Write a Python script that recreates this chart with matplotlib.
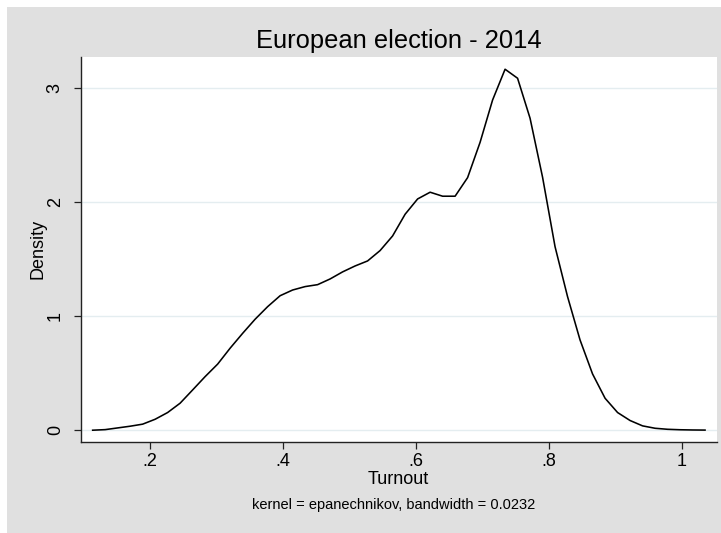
import matplotlib
matplotlib.use("Agg")
import matplotlib.pyplot as plt
from matplotlib.patches import Rectangle

# Kernel density estimate of turnout, 50 evaluation points
turnout = [0.1133, 0.1321, 0.1509, 0.1697, 0.1885, 0.2073, 0.2261, 0.2449, 0.2637, 0.2825,
           0.3014, 0.3202, 0.3390, 0.3578, 0.3766, 0.3954, 0.4142, 0.4330, 0.4518, 0.4706,
           0.4894, 0.5082, 0.5270, 0.5458, 0.5646, 0.5835, 0.6023, 0.6211, 0.6399, 0.6587,
           0.6775, 0.6963, 0.7151, 0.7339, 0.7527, 0.7715, 0.7903, 0.8091, 0.8279, 0.8467,
           0.8655, 0.8844, 0.9032, 0.9220, 0.9408, 0.9596, 0.9784, 0.9972, 1.0160, 1.0348]
density = [0.000, 0.005, 0.020, 0.035, 0.053, 0.096, 0.155, 0.237, 0.353, 0.470,
           0.580, 0.720, 0.850, 0.974, 1.084, 1.180, 1.230, 1.260, 1.277, 1.327,
           1.389, 1.441, 1.485, 1.576, 1.704, 1.895, 2.029, 2.088, 2.053, 2.053,
           2.216, 2.526, 2.897, 3.167, 3.088, 2.737, 2.220, 1.610, 1.172, 0.792,
           0.494, 0.280, 0.155, 0.085, 0.038, 0.017, 0.008, 0.004, 0.002, 0.001]

x_ticks = [0.2, 0.4, 0.6, 0.8, 1.0]
x_tick_labels = [".2", ".4", ".6", ".8", "1"]
y_ticks = [0, 1, 2, 3]
y_tick_labels = ["0", "1", "2", "3"]

title = "European election - 2014"
x_label = "Turnout"
y_label = "Density"
note = "kernel = epanechnikov, bandwidth = 0.0232"

plt.rcParams["font.family"] = ["Liberation Sans", "DejaVu Sans"]

W, H = 721, 533
fig = plt.figure(figsize=(W / 100, H / 100), dpi=100, facecolor="white")

# grey graph region
fig.patches.append(Rectangle((7 / W, 0), 1 - 7 / W, 1 - 7 / H,
                             transform=fig.transFigure, facecolor="#e0e0e0",
                             edgecolor="none", zorder=-5))

left, right, top, bottom = 80.5, 717, 56.7, 442
ax = fig.add_axes([left / W, 1 - bottom / H, (right - left) / W, (bottom - top) / H])
ax.set_zorder(2)
ax.set_facecolor("white")

ax.plot(turnout, density, color="black", lw=1.15, zorder=3)

ax.set_xlim(0.0950, 1.0528)
ax.set_ylim(-0.1035, 3.277)

ax.set_xticks(x_ticks)
ax.set_xticklabels(x_tick_labels)
ax.set_yticks(y_ticks)
ax.set_yticklabels(y_tick_labels)

ax.grid(axis="y", color="#e4edf0", lw=1.0, zorder=1)
ax.grid(axis="x", visible=False)

for side in ("top", "right"):
    ax.spines[side].set_visible(False)
for side in ("left", "bottom"):
    ax.spines[side].set_color("#222222")
    ax.spines[side].set_linewidth(1.0)

ax.tick_params(axis="both", direction="out", length=5, width=0.9,
               color="#222222", labelsize=13, labelcolor="black")
ax.tick_params(axis="x", pad=3)
ax.tick_params(axis="y", pad=7)
for lab in ax.get_yticklabels():
    lab.set_rotation(90)
    lab.set_va("center")

cx = (left + right) / 2 / W
fig.text(cx, 1 - 41 / H, title, ha="center", va="center", fontsize=18.4, zorder=3)
fig.text(cx, 1 - 479 / H, x_label, ha="center", va="center", fontsize=13, zorder=3)
fig.text(38 / W, 1 - ((top + bottom) / 2) / H, y_label, ha="center", va="center",
         rotation=90, fontsize=13, zorder=3)
fig.text(cx - 5 / W, 1 - 505 / H, note, ha="center", va="center", fontsize=10.5, zorder=3)

fig.savefig("out.png", dpi=100, facecolor="white")
